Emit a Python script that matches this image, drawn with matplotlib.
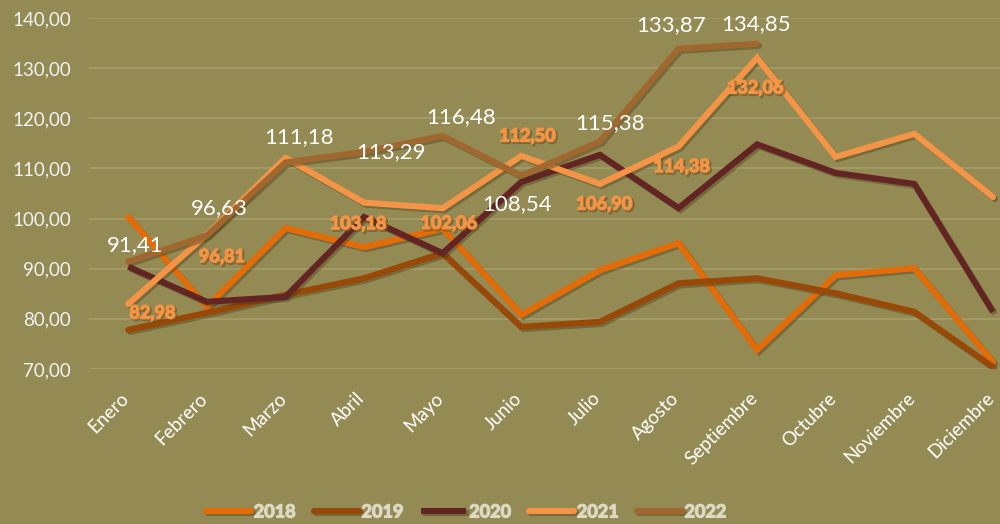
import numpy as np
import matplotlib
matplotlib.use("Agg")
import matplotlib.pyplot as plt
import matplotlib.patheffects as pe

# Datos
meses = ["Enero", "Febrero", "Marzo", "Abril", "Mayo", "Junio", "Julio",
         "Agosto", "Septiembre", "Octubre", "Noviembre", "Diciembre"]
v2018 = [100.3, 82.4, 98.1, 94.3, 98.0, 80.8, 89.7, 95.1, 73.8, 88.7, 90.1, 71.4]
v2019 = [77.8, 81.2, 84.8, 88.1, 93.1, 78.4, 79.4, 87.1, 88.1, 85.1, 81.4, 70.4]
v2020 = [90.4, 83.4, 84.4, 100.3, 93.1, 107.3, 112.7, 102.1, 114.8, 109.1, 106.9, 81.4]
v2021 = [82.98, 96.81, 112.1, 103.18, 102.06, 112.50, 106.90, 114.38, 132.06, 112.3, 116.9, 104.3]
v2022 = [91.41, 96.63, 111.18, 113.29, 116.48, 108.54, 115.38, 133.87, 134.85]

# etiquetas mostradas (indice del mes)
idx_lbl_2021 = [0, 1, 3, 4, 5, 6, 7, 8]
idx_lbl_2022 = [0, 1, 2, 3, 4, 5, 6, 7, 8]
# desplazamientos de etiquetas en pixeles (dx, dy hacia abajo)
off_2021 = [(24, 9), (15, 22), (-6, 21), (6, 15), (6, -20), (4, 20), (3, 20), (-2, 30)]
off_2022 = [(7, -17), (12, -27), (14, -25), (27, 0), (18, -19), (-4, 28), (10, -18), (-7, -24), (-1, -20)]

fondo = "#948A54"
colores = {"2018": "#E36C09", "2019": "#984807", "2020": "#632523",
           "2021": "#F39447", "2022": "#A0682F"}

plt.rcParams['font.family'] = ['Lato', 'DejaVu Sans']

fig = plt.figure(figsize=(10, 5.24), dpi=100, facecolor=fondo)
ax = fig.add_axes([0.089, (524 - 369) / 524, 0.911, 351 / 524])
ax.set_facecolor(fondo)

x = np.arange(len(meses))
sombra = [pe.SimpleLineShadow(offset=(1.5, -1.5), shadow_color="#3a3010", alpha=0.35), pe.Normal()]

series = [("2018", v2018), ("2019", v2019), ("2020", v2020), ("2021", v2021), ("2022", v2022)]
for nombre, vals in series:
    cap = "butt" if nombre == "2020" else "round"
    ax.plot(x[:len(vals)], vals, color=colores[nombre], lw=4.4, label=nombre,
            solid_capstyle=cap, solid_joinstyle="miter", path_effects=sombra)

# negrita simulada con trazo + sombra
c21 = colores["2021"]
efecto_21 = [pe.withStroke(linewidth=1.6, foreground="#5a4a1a", alpha=0.5, offset=(1.2, -1.2)),
             pe.withStroke(linewidth=1.0, foreground=c21)]
for i, (dx, dy) in zip(idx_lbl_2021, off_2021):
    ax.annotate(f"{v2021[i]:.2f}".replace(".", ","), (x[i], v2021[i]),
                xytext=(dx * 0.72, -dy * 0.72), textcoords="offset points",
                ha="center", va="center", fontsize=13, fontweight="bold",
                color=c21, path_effects=efecto_21)
for i, (dx, dy) in zip(idx_lbl_2022, off_2022):
    ax.annotate(f"{v2022[i]:.2f}".replace(".", ","), (x[i], v2022[i]),
                xytext=(dx * 0.72, -dy * 0.72), textcoords="offset points",
                ha="center", va="center", fontsize=16, color="white")

ax.set_xlim(-0.5, 11.09)
ax.set_ylim(70, 140)
ax.set_yticks(np.arange(70, 141, 10))
ax.set_yticklabels([f"{v:.2f}".replace(".", ",") for v in np.arange(70, 141, 10)],
                   fontsize=13.5, color="#F2F2F2")
ax.set_xticks(x)
ax.set_xticklabels([])
# etiquetas de meses giradas
for i, mes in enumerate(meses):
    ax.annotate(mes, (x[i], 0), xycoords=("data", "axes fraction"),
                xytext=(-5.8, -14.8), textcoords="offset points",
                rotation=45, ha="right", va="top", rotation_mode="anchor",
                fontsize=13.5, color="white", annotation_clip=False)
ax.tick_params(length=0)
ax.tick_params(axis="y", pad=13)
ax.grid(axis="y", color="#A69D6B", lw=1.2)
ax.set_axisbelow(True)
for s in ax.spines.values():
    s.set_visible(False)

leg = fig.legend(loc="center", bbox_to_anchor=(0.466, 0.023), ncol=5, frameon=False,
                 handlelength=2.5, handletextpad=0.15, columnspacing=1.0,
                 prop={"size": 13, "weight": "bold"})
for t in leg.get_texts():
    t.set_color("#DDD9C3")
    t.set_path_effects([pe.withStroke(linewidth=0.9, foreground="#DDD9C3")])

fig.savefig("out.png", dpi=100, facecolor=fondo)
